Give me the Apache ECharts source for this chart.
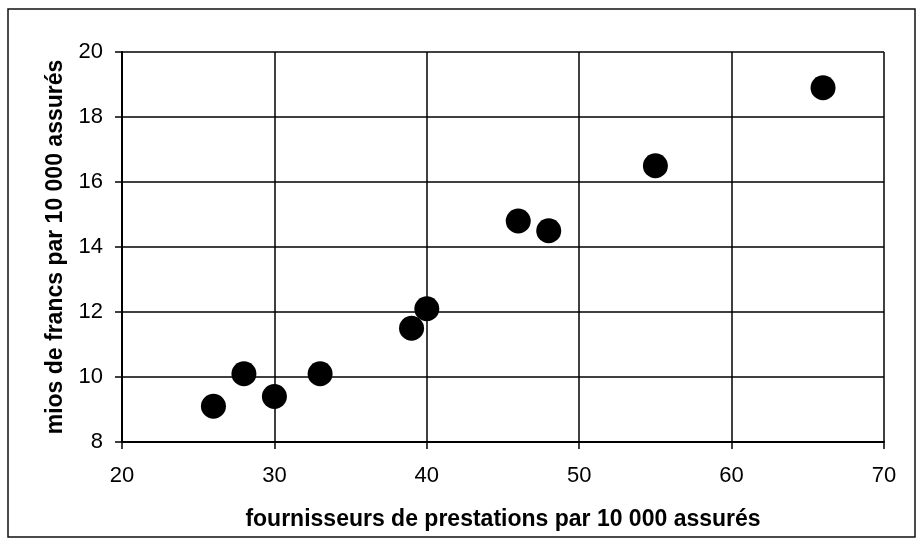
<!DOCTYPE html>
<html><head><meta charset="utf-8">
<script src="https://cdn.jsdelivr.net/npm/echarts@6/dist/echarts.min.js"></script>
<style>html,body{margin:0;padding:0;background:#fff}#c{width:923px;height:544px}</style>
</head><body><div id="c"></div>
<script>
const xValues = [26, 28, 30, 33, 39, 40, 46, 48, 55, 66];
const yValues = [9.1, 10.1, 9.4, 10.1, 11.5, 12.1, 14.8, 14.5, 16.5, 18.9];
const xAxisName = 'fournisseurs de prestations par 10 000 assurés';
const yAxisName = 'mios de francs par 10 000 assurés';

const chart = echarts.init(document.getElementById('c'));
const font = 'Liberation Sans, Arial, sans-serif';
chart.setOption({
  animation: false,
  backgroundColor: '#fff',
  graphic: [{type: 'rect', shape: {x: 8, y: 9, width: 907, height: 528}, style: {fill: 'none', stroke: '#111', lineWidth: 1.5}}],
  grid: {left: 122, right: 39, top: 52, bottom: 102},
  xAxis: {
    type: 'value', min: 20, max: 70, interval: 10,
    name: xAxisName, nameLocation: 'middle', nameGap: 66,
    nameTextStyle: {fontFamily: font, fontWeight: 'bold', fontSize: 23, color: '#000'},
    axisLine: {show: true, onZero: false, lineStyle: {color: '#000', width: 2}},
    axisTick: {show: true, length: 7, lineStyle: {color: '#000', width: 1.5}},
    axisLabel: {fontFamily: font, fontSize: 22, color: '#000', margin: 23},
    splitLine: {show: true, lineStyle: {color: '#000', width: 1.5}}
  },
  yAxis: {
    type: 'value', min: 8, max: 20, interval: 2,
    name: yAxisName, nameLocation: 'middle', nameGap: 53,
    nameTextStyle: {fontFamily: font, fontWeight: 'bold', fontSize: 23, color: '#000'},
    axisLine: {show: true, onZero: false, lineStyle: {color: '#000', width: 2}},
    axisTick: {show: true, length: 7, lineStyle: {color: '#000', width: 1.5}},
    axisLabel: {fontFamily: font, fontSize: 22, color: '#000', margin: 19},
    splitLine: {show: true, lineStyle: {color: '#000', width: 1.5}}
  },
  series: [{
    type: 'scatter', symbol: 'circle', symbolSize: 25,
    itemStyle: {color: '#000', opacity: 1},
    data: xValues.map((x, i) => [x, yValues[i]])
  }]
});
</script></body></html>
